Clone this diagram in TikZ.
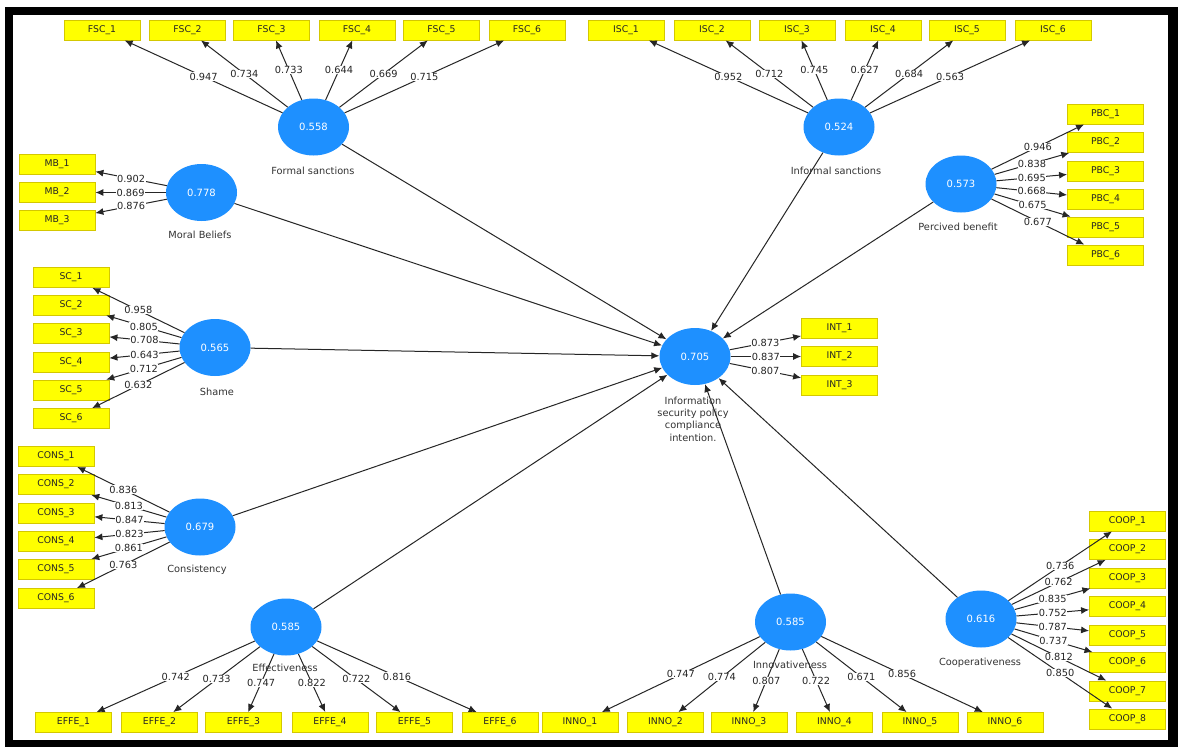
\documentclass[tikz,border=0pt]{standalone}
\usepackage{fontspec}
\setmainfont{DejaVu Sans}
\usetikzlibrary{shapes.geometric,arrows.meta}
\definecolor{lvblue}{RGB}{30,144,255}
\definecolor{boxyel}{RGB}{255,255,0}
\definecolor{boxedge}{RGB}{212,200,0}
\tikzset{
 lv/.style={ellipse, fill=lvblue, draw=none, minimum width=71pt, minimum height=57pt, inner sep=0pt, text=white, font=\fontsize{10}{12}\selectfont},
 mv/.style={rectangle, fill=boxyel, draw=boxedge, line width=0.8pt, minimum width=76pt, minimum height=20pt, inner sep=0pt, font=\fontsize{9.3}{10}\selectfont, text=black!85},
 ld/.style={draw=black!85, line width=1pt, -{Latex[length=8pt,width=7pt]}},
 pa/.style={ld},
 lbl/.style={fill=white, inner sep=0.4pt, font=\fontsize{9.8}{10}\selectfont, text=black!85},
 lvname/.style={font=\fontsize{9.8}{12.3}\selectfont, text=black!80},
}
\begin{document}
\begin{tikzpicture}[x=1pt,y=-1pt]
\useasboundingbox (0,0) rectangle (1178,747);
\fill[black] (5,7) rectangle (1178,747);
\fill[white] (12.5,15) rectangle (1168,740);

% latent variables
\node[lv] (fs)  at (313.5,127) {0.558};
\node[lv] (is)  at (839,127)   {0.524};
\node[lv] (mb)  at (201.5,192.5) {0.778};
\node[lv] (pb)  at (961,184)   {0.573};
\node[lv] (sh)  at (215,347.5) {0.565};
\node[lv] (int) at (695,356.5) {0.705};
\node[lv] (co)  at (200,527)   {0.679};
\node[lv] (ef)  at (286,627)   {0.585};
\node[lv] (inn) at (790.5,622) {0.585};
\node[lv] (cp)  at (981,619)   {0.616};

% indicators
\foreach \i/\x in {1/102,2/187.5,3/271.5,4/357,5/441.5,6/527}
  \node[mv] (fsc\i) at (\x,30) {FSC\_\i};
\foreach \i/\x in {1/626,2/712,3/797,4/883,5/967,6/1053}
  \node[mv] (isc\i) at (\x,30) {ISC\_\i};
\foreach \i/\y in {1/164,2/192.5,3/220.5}
  \node[mv] (mbi\i) at (57,\y) {MB\_\i};
\foreach \i/\y in {1/277.5,2/305,3/333,4/362,5/390,6/418.5}
  \node[mv] (sci\i) at (71,\y) {SC\_\i};
\foreach \i/\y in {1/456.5,2/484.5,3/513,4/541.5,5/569.5,6/598.5}
  \node[mv] (cons\i) at (56,\y) {CONS\_\i};
\foreach \i/\x in {1/73.5,2/159.5,3/243.5,4/330,5/414.5,6/500}
  \node[mv] (effe\i) at (\x,722.5) {EFFE\_\i};
\foreach \i/\x in {1/580,2/665.5,3/749,4/834.5,5/920,6/1005}
  \node[mv] (inno\i) at (\x,722.5) {INNO\_\i};
\foreach \i/\y in {1/114,2/142.5,3/171,4/199,5/227,6/255}
  \node[mv] (pbc\i) at (1105.5,\y) {PBC\_\i};
\foreach \i/\y in {1/521,2/549.5,3/578,4/606.5,5/635,6/662.5,7/691,8/719}
  \node[mv] (coop\i) at (1127.5,\y) {COOP\_\i};
\foreach \i/\y in {1/328.5,2/356.5,3/385.5}
  \node[mv] (inti\i) at (839.5,\y) {INT\_\i};

% structural paths
\foreach \s in {fs,is,mb,pb,sh,co,ef,inn,cp}
  \draw[pa] (\s) -- (int);

% loading arrows
\foreach \i in {1,...,6} {
  \draw[ld] (fs) -- (fsc\i);
  \draw[ld] (is) -- (isc\i);
  \draw[ld] (sh) -- (sci\i);
  \draw[ld] (co) -- (cons\i);
  \draw[ld] (ef) -- (effe\i);
  \draw[ld] (inn) -- (inno\i);
  \draw[ld] (pb) -- (pbc\i);
}
\foreach \i in {1,2,3} {
  \draw[ld] (mb) -- (mbi\i);
  \draw[ld] (int) -- (inti\i);
}
\foreach \i in {1,...,8}
  \draw[ld] (cp) -- (coop\i);

% latent variable names
\node[lvname] (fsn) at (313,171) {Formal sanctions};
\node[lvname] (isn) at (836,171) {Informal sanctions};
\node[lvname] (mbn) at (200,235) {Moral Beliefs};
\node[lvname] (pbn) at (958,227) {Percived benefit};
\node[lvname] (shn) at (217,392) {Shame};
\node[lvname] (con) at (197,570) {Consistency};
\node[lvname] (efn) at (285,668) {Effectiveness};
\node[lvname] (inn-n) at (790,665) {Innovativeness};
\node[lvname] (cpn) at (980,663) {Cooperativeness};
\node[lvname, align=center] (intn) at (693,419) {Information\\security policy\\compliance\\intention.};

% loading labels
\foreach \i/\v in {1/0.947,2/0.734,3/0.733,4/0.644,5/0.669,6/0.715}
  \path (fs) -- node[lbl]{\v} (fsc\i);
\foreach \i/\v in {1/0.952,2/0.712,3/0.745,4/0.627,5/0.684,6/0.563}
  \path (is) -- node[lbl]{\v} (isc\i);
\foreach \i/\v in {1/0.902,2/0.869,3/0.876}
  \path (mb) -- node[lbl]{\v} (mbi\i);
\foreach \i/\v in {1/0.958,2/0.805,3/0.708,4/0.643,5/0.712,6/0.632}
  \path (sh) -- node[lbl]{\v} (sci\i);
\foreach \i/\v in {1/0.836,2/0.813,3/0.847,4/0.823,5/0.861,6/0.763}
  \path (co) -- node[lbl]{\v} (cons\i);
\foreach \i/\v in {1/0.742,2/0.733,3/0.747,4/0.822,5/0.722,6/0.816}
  \path (ef) -- node[lbl]{\v} (effe\i);
\foreach \i/\v in {1/0.747,2/0.774,3/0.807,4/0.722,5/0.671,6/0.856}
  \path (inn) -- node[lbl]{\v} (inno\i);
\foreach \i/\v in {1/0.946,2/0.838,3/0.695,4/0.668,5/0.675,6/0.677}
  \path (pb) -- node[lbl]{\v} (pbc\i);
\foreach \i/\v in {1/0.736,2/0.762,3/0.835,4/0.752,5/0.787,6/0.737,7/0.812,8/0.850}
  \path (cp) -- node[lbl]{\v} (coop\i);
\foreach \i/\v in {1/0.873,2/0.837,3/0.807}
  \path (int) -- node[lbl]{\v} (inti\i);
\end{tikzpicture}
\end{document}
